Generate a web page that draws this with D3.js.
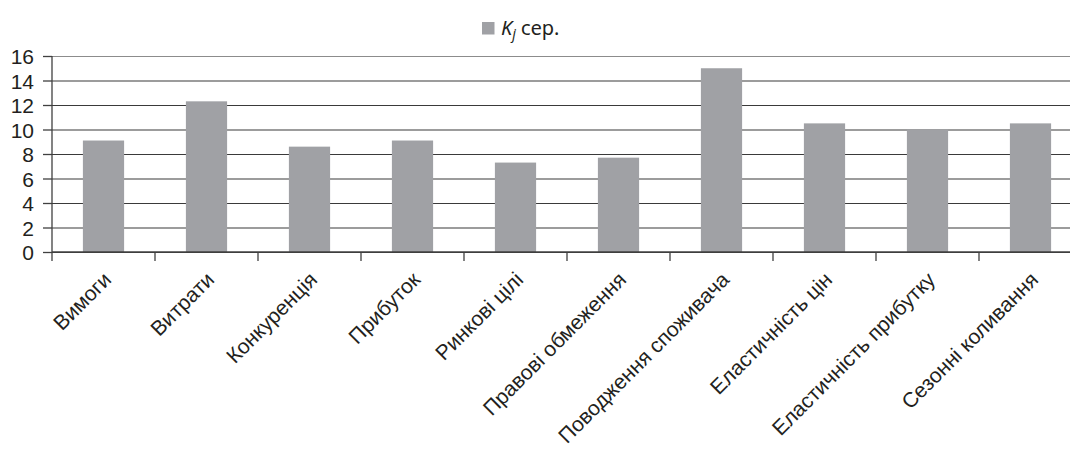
<!DOCTYPE html>
<html lang="uk">
  <head>
    <meta charset="UTF-8" />
    <title>Kj сер.</title>
    <script src="https://d3js.org/d3.v7.min.js"></script>
    <style>
      body {
        margin: 0;
        background: #fff;
      }
      svg {
        display: block;
        font-family: "Noto Sans", "Open Sans", sans-serif;
      }
      .y-axis text {
        font-size: 21px;
        fill: #231f20;
      }
      .x-axis text {
        font-size: 21px;
        fill: #231f20;
      }
      .legend text {
        font-size: 20px;
        fill: #231f20;
      }
    </style>
  </head>
  <body>
    <div id="chart"></div>

    <script>
      // дані
      const categories = [
        "Вимоги",
        "Витрати",
        "Конкуренція",
        "Прибуток",
        "Ринкові цілі",
        "Правові обмеження",
        "Поводження споживача",
        "Еластичність цін",
        "Еластичність прибутку",
        "Сезонні коливання",
      ];
      const values = [9.1, 12.3, 8.6, 9.1, 7.3, 7.7, 15.0, 10.5, 10.0, 10.5];
      const yTicks = [0, 2, 4, 6, 8, 10, 12, 14, 16];

      const W = 1070,
        H = 455;
      const margin = { top: 56, left: 52 };
      const plotW = 1030,
        plotH = 196;

      const svg = d3
        .select("#chart")
        .append("svg")
        .attr("width", W)
        .attr("height", H);

      const g = svg
        .append("g")
        .attr("transform", `translate(${margin.left},${margin.top})`);

      const x = d3
        .scaleBand()
        .domain(categories)
        .range([0, plotW])
        .paddingInner(0.6)
        .paddingOuter(0.3);

      const y = d3.scaleLinear().domain([0, 16]).range([plotH, 0]);

      // сітка
      g.append("g")
        .attr("class", "grid")
        .call(d3.axisLeft(y).tickValues(yTicks).tickSize(-(W - margin.left)).tickFormat(""))
        .call((s) => s.select(".domain").remove())
        .selectAll("line")
        .attr("stroke", (d) => (d === 16 ? "#8c8c8c" : "#3a3a3a"))
        .attr("stroke-width", 1.2);

      // стовпці
      g.selectAll(".bar")
        .data(values)
        .join("rect")
        .attr("class", "bar")
        .attr("x", (d, i) => x(categories[i]))
        .attr("y", (d) => y(d))
        .attr("width", x.bandwidth())
        .attr("height", (d) => y(0) - y(d))
        .attr("fill", "#a0a1a5");

      // вісь Y
      const yAxis = g
        .append("g")
        .attr("class", "y-axis")
        .call(d3.axisLeft(y).tickValues(yTicks).tickSize(9).tickPadding(9));
      yAxis.select(".domain").remove();
      yAxis.selectAll("line").attr("stroke", "#404040").attr("stroke-width", 1.3);
      yAxis.selectAll("text").attr("dy", "0.36em");
      yAxis
        .append("line")
        .attr("x1", 0)
        .attr("x2", 0)
        .attr("y1", 0)
        .attr("y2", plotH + 9)
        .attr("stroke", "#404040")
        .attr("stroke-width", 1.3);

      // вісь X
      const xAxis = g
        .append("g")
        .attr("class", "x-axis")
        .attr("transform", `translate(0,${plotH})`)
        .call(d3.axisBottom(x).tickSize(0));
      xAxis.select(".domain").remove();
      xAxis
        .selectAll("text")
        .attr("text-anchor", "end")
        .attr("dy", 0)
        .attr("y", 0)
        .attr("transform", "translate(9,29) rotate(-45)");

      xAxis
        .append("line")
        .attr("x1", 0)
        .attr("x2", W - margin.left)
        .attr("stroke", "#404040")
        .attr("stroke-width", 1.5);

      const step = x.step();
      xAxis
        .selectAll(".sep")
        .data(d3.range(1, categories.length + 1))
        .join("line")
        .attr("class", "sep")
        .attr("x1", (k) => k * step)
        .attr("x2", (k) => k * step)
        .attr("y1", 0)
        .attr("y2", 9)
        .attr("stroke", "#404040")
        .attr("stroke-width", 1.3);

      // легенда
      const legend = svg.append("g").attr("class", "legend").attr("transform", "translate(482,22)");
      legend.append("rect").attr("width", 12.5).attr("height", 12.5).attr("fill", "#a0a1a5");
      const lt = legend.append("text").attr("x", 19).attr("y", 12.5);
      lt.append("tspan").attr("font-style", "italic").text("K");
      lt.append("tspan").attr("font-style", "italic").attr("font-size", "14px").attr("dy", 4).text("j");
      lt.append("tspan").attr("dy", -4).text(" сер.");
    </script>
  </body>
</html>
